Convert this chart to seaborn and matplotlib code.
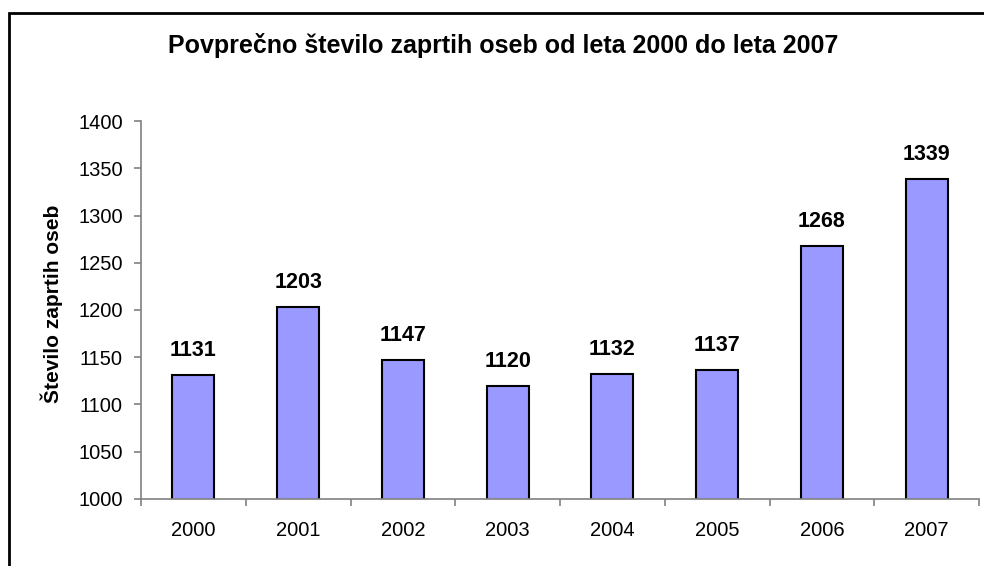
import numpy as np
import pandas as pd
import matplotlib
matplotlib.use("Agg")
import matplotlib.pyplot as plt
import seaborn as sns
from matplotlib.patches import Rectangle

years = ["2000", "2001", "2002", "2003", "2004", "2005", "2006", "2007"]
prisoners = [1131, 1203, 1147, 1120, 1132, 1137, 1268, 1339]
yticks = [1000, 1050, 1100, 1150, 1200, 1250, 1300, 1350, 1400]

df = pd.DataFrame({"Leto": years, "Zaprti": prisoners})

sns.set_style("white")
plt.rcParams["font.family"] = ["Liberation Sans", "DejaVu Sans"]
plt.rcParams["text.color"] = "black"
plt.rcParams["axes.labelcolor"] = "black"
plt.rcParams["xtick.color"] = "black"
plt.rcParams["ytick.color"] = "black"

fig = plt.figure(figsize=(9.84, 5.66), dpi=100)
ax = fig.add_axes([0.1433, 0.1184, 0.8517, 0.6678])

sns.barplot(x="Leto", y="Zaprti", data=df, color="#9999FF", width=0.4,
            edgecolor="black", linewidth=1.5, saturation=1, ax=ax)

ax.set_ylim(1000, 1400)
ax.set_yticks(yticks)
ax.set_xlim(-0.5, len(years) - 0.5)

for i, v in enumerate(prisoners):
    ax.annotate(str(v), (i, v), xytext=(0, 10), textcoords="offset points",
                ha="center", va="bottom", fontsize=15.5, fontweight="bold")

# Excel-like axes
for side in ["top", "right"]:
    ax.spines[side].set_visible(False)
for side in ["left", "bottom"]:
    ax.spines[side].set_color("#808080")
    ax.spines[side].set_linewidth(1.2)

ax.tick_params(axis="y", direction="out", length=5, color="#808080", width=1.2,
               labelsize=14.5, pad=8, left=True, labelcolor="black")
ax.tick_params(axis="x", bottom=False, length=0, labelsize=14.5, pad=16,
               labelcolor="black")
# category boundary ticks on x axis
ax.set_xticks(np.arange(-0.5, len(years), 1), minor=True)
ax.tick_params(axis="x", which="minor", direction="out", length=5,
               color="#808080", width=1.2, bottom=True)

ax.set_xlabel("")
ax.set_ylabel("Število zaprtih oseb", fontsize=15, fontweight="bold")
ax.yaxis.set_label_coords(-0.093, 0.516)

fig.text(0.511, 1 - 53 / 566, "Povprečno število zaprtih oseb od leta 2000 do leta 2007",
         ha="center", va="baseline", fontsize=18, fontweight="bold")

# chart frame (only left and top visible in the crop)
fig.patches.append(Rectangle((8.5 / 984, -0.1), 1.2, 1 - 12.5 / 566 + 0.1,
                             transform=fig.transFigure, fill=False,
                             edgecolor="black", linewidth=2))

fig.savefig("out.png", dpi=100)
